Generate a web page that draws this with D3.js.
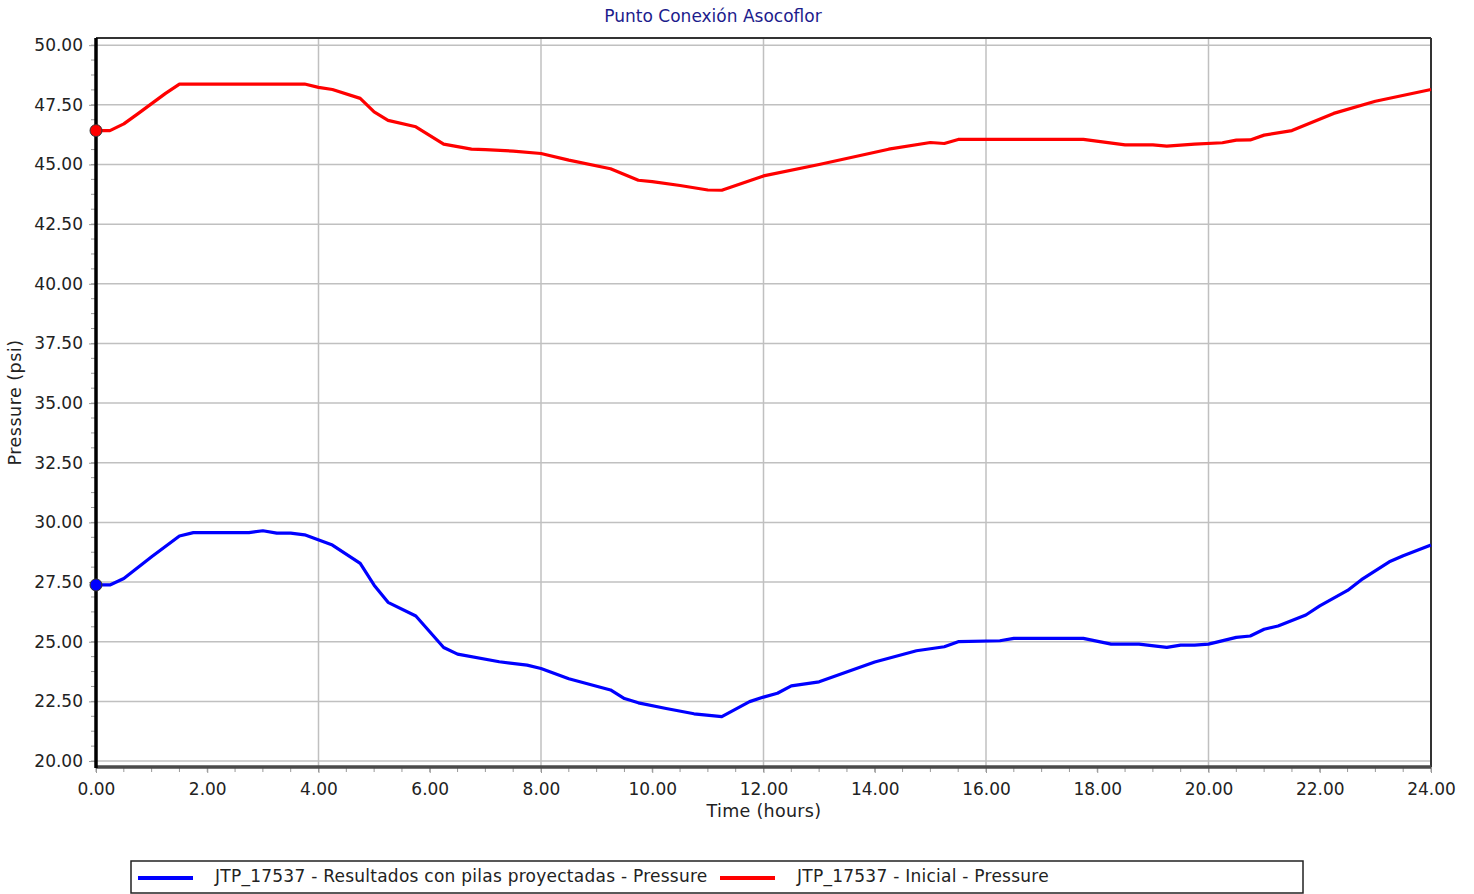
<!DOCTYPE html>
<html>
<head>
<meta charset="utf-8">
<script src="https://cdn.jsdelivr.net/npm/d3@7"></script>
<style>
  html, body { margin: 0; padding: 0; background: #fff; }
  svg { display: block; }
  text { font-family: "DejaVu Sans", Verdana, sans-serif; }
</style>
</head>
<body>
<svg id="chart" width="1474" height="894"></svg>
<script>
// ---- Data ----
const chartTitle = "Punto Conexión Asocoflor";
const xAxisTitle = "Time (hours)";
const yAxisTitle = "Pressure (psi)";

const xTickValues = [0, 2, 4, 6, 8, 10, 12, 14, 16, 18, 20, 22, 24];
const yTickValues = [20, 22.5, 25, 27.5, 30, 32.5, 35, 37.5, 40, 42.5, 45, 47.5, 50];

const blueName = "JTP_17537 - Resultados con pilas proyectadas - Pressure";
const blueTimes = [0, 0.25, 0.5, 1.0, 1.5, 1.75, 2.75, 3.0, 3.25, 3.5, 3.75, 4.25, 4.75, 5.0, 5.25, 5.75,
  6.25, 6.5, 7.25, 7.75, 8.0, 8.5, 9.25, 9.5, 9.75, 10.25, 10.75, 11.25, 11.75, 12.0, 12.25, 12.5,
  13.0, 14.0, 14.75, 15.25, 15.5, 16.25, 16.5, 17.75, 18.25, 18.75, 19.25, 19.5, 19.75, 20.0, 20.5,
  20.75, 21.0, 21.25, 21.75, 22.0, 22.5, 22.75, 23.25, 23.5, 24.0];
const blueValues = [27.38, 27.38, 27.65, 28.56, 29.43, 29.57, 29.57, 29.65, 29.55, 29.55, 29.48, 29.05, 28.28, 27.37, 26.65, 26.08,
  24.76, 24.48, 24.16, 24.02, 23.88, 23.45, 22.98, 22.62, 22.44, 22.20, 21.98, 21.86, 22.49, 22.68, 22.84, 23.15,
  23.32, 24.15, 24.62, 24.79, 25.00, 25.04, 25.14, 25.14, 24.90, 24.90, 24.76, 24.86, 24.86, 24.90, 25.18,
  25.24, 25.52, 25.66, 26.12, 26.50, 27.15, 27.60, 28.35, 28.60, 29.05];

const redName = "JTP_17537 - Inicial - Pressure";
const redTimes = [0, 0.25, 0.5, 0.75, 1.0, 1.25, 1.5, 3.75, 4.0, 4.25, 4.75, 5.0, 5.25, 5.75, 6.25, 6.75,
  7.0, 7.5, 8.0, 8.5, 9.25, 9.75, 10.0, 10.5, 11.0, 11.25, 12.0, 13.0, 14.25, 15.0, 15.25, 15.5, 17.75,
  18.5, 19.0, 19.25, 19.75, 20.25, 20.5, 20.75, 21.0, 21.5, 22.25, 23.0, 24.0];
const redValues = [46.42, 46.42, 46.70, 47.12, 47.55, 47.98, 48.37, 48.37, 48.23, 48.14, 47.77, 47.20, 46.85, 46.58, 45.85, 45.64,
  45.62, 45.56, 45.46, 45.18, 44.82, 44.34, 44.28, 44.12, 43.93, 43.92, 44.52, 45.00, 45.64, 45.92, 45.88, 46.05, 46.05,
  45.82, 45.82, 45.77, 45.85, 45.91, 46.02, 46.03, 46.23, 46.42, 47.14, 47.65, 48.14];

// ---- Layout ----
const svg = d3.select("#chart");
const W = 1474, H = 894;
const pLeft = 96, pRight = 1431, pTop = 38, pBottom = 767;
const FONT = "'DejaVu Sans', Verdana, sans-serif";

svg.append("rect").attr("width", W).attr("height", H).attr("fill", "#fff");

const x = d3.scaleLinear().domain([0, 24]).range([pLeft, pRight]);
const y = d3.scaleLinear().domain([19.75, 50.3]).range([pBottom, pTop]);

// Grid
const gGrid = svg.append("g");
gGrid.selectAll("line.h").data(yTickValues).enter().append("line")
  .attr("x1", pLeft).attr("x2", pRight)
  .attr("y1", d => y(d)).attr("y2", d => y(d))
  .attr("stroke", "#c0c0c0").attr("stroke-width", 1.5);
gGrid.selectAll("line.v").data(d3.range(0, 25, 4)).enter().append("line")
  .attr("x1", d => x(d)).attr("x2", d => x(d))
  .attr("y1", pTop).attr("y2", pBottom)
  .attr("stroke", "#c0c0c0").attr("stroke-width", 1.5);

// Minor ticks
const minorX = d3.range(0, 24.01, 0.5);
svg.append("g").selectAll("line").data(minorX).enter().append("line")
  .attr("x1", d => x(d)).attr("x2", d => x(d))
  .attr("y1", pBottom).attr("y2", pBottom + 5)
  .attr("stroke", "#999").attr("stroke-width", 1);
const minorY = d3.range(20, 50.01, 0.625);
svg.append("g").selectAll("line").data(minorY).enter().append("line")
  .attr("x1", pLeft - 5).attr("x2", pLeft)
  .attr("y1", d => y(d)).attr("y2", d => y(d))
  .attr("stroke", "#999").attr("stroke-width", 1);

// Axes (labels and major ticks)
const xAxis = d3.axisBottom(x).tickValues(xTickValues).tickFormat(d3.format(".2f")).tickSize(6).tickPadding(10);
const gx = svg.append("g").attr("transform", `translate(0,${pBottom})`).call(xAxis);
gx.select(".domain").remove();
gx.selectAll(".tick line").attr("stroke", "#999");
gx.selectAll(".tick text").attr("font-size", 17).attr("fill", "#222").attr("font-family", FONT);

const yAxis = d3.axisLeft(y).tickValues(yTickValues).tickFormat(d3.format(".2f")).tickSize(7).tickPadding(6);
const gy = svg.append("g").attr("transform", `translate(${pLeft},0)`).call(yAxis);
gy.select(".domain").remove();
gy.selectAll(".tick line").attr("stroke", "#999");
gy.selectAll(".tick text").attr("font-size", 17).attr("fill", "#222").attr("font-family", FONT);

// Frame
svg.append("line").attr("x1", pLeft).attr("x2", pRight).attr("y1", pTop).attr("y2", pTop)
  .attr("stroke", "#333").attr("stroke-width", 2);
svg.append("line").attr("x1", pRight).attr("x2", pRight).attr("y1", pTop).attr("y2", pBottom)
  .attr("stroke", "#333").attr("stroke-width", 2);
svg.append("line").attr("x1", pLeft).attr("x2", pRight).attr("y1", pBottom).attr("y2", pBottom)
  .attr("stroke", "#4a4a4a").attr("stroke-width", 3.5);
svg.append("line").attr("x1", pLeft).attr("x2", pLeft).attr("y1", pTop).attr("y2", pBottom + 1)
  .attr("stroke", "#000").attr("stroke-width", 3.5);

// Series
const line = d3.line().x(d => x(d[0])).y(d => y(d[1]));
const series = [
  { name: blueName, color: "#0000ff", pts: d3.zip(blueTimes, blueValues) },
  { name: redName, color: "#ff0000", pts: d3.zip(redTimes, redValues) }
];
series.forEach(s => {
  svg.append("path").datum(s.pts).attr("d", line)
    .attr("fill", "none").attr("stroke", s.color).attr("stroke-width", 3.2)
    .attr("stroke-linejoin", "round");
  svg.append("circle").attr("cx", x(s.pts[0][0])).attr("cy", y(s.pts[0][1])).attr("r", 6)
    .attr("fill", s.color).attr("stroke", "#333").attr("stroke-width", 1);
});

// Titles
svg.append("text").attr("x", 713).attr("y", 22).attr("text-anchor", "middle")
  .attr("font-size", 17).attr("fill", "#1c1c8c").text(chartTitle);
svg.append("text").attr("x", 764).attr("y", 817).attr("text-anchor", "middle")
  .attr("font-size", 17.5).attr("fill", "#222").attr("letter-spacing", 0.3).text(xAxisTitle);
svg.append("text").attr("transform", `translate(21,${(pTop + pBottom) / 2}) rotate(-90)`)
  .attr("text-anchor", "middle").attr("font-size", 17.5).attr("fill", "#222").attr("letter-spacing", 0.5).text(yAxisTitle);

// Legend
const lg = svg.append("g");
lg.append("rect").attr("x", 131).attr("y", 861).attr("width", 1172).attr("height", 32)
  .attr("fill", "none").attr("stroke", "#222").attr("stroke-width", 1.5);
const legendItems = [
  { name: blueName, color: "#0000ff", x0: 138 },
  { name: redName, color: "#ff0000", x0: 720 }
];
legendItems.forEach(it => {
  lg.append("line").attr("x1", it.x0).attr("x2", it.x0 + 55).attr("y1", 878).attr("y2", 878)
    .attr("stroke", it.color).attr("stroke-width", 4);
  lg.append("text").attr("x", it.x0 + 77).attr("y", 882).attr("font-size", 17)
    .attr("letter-spacing", 0.25).attr("fill", "#222").text(it.name);
});
</script>
</body>
</html>
